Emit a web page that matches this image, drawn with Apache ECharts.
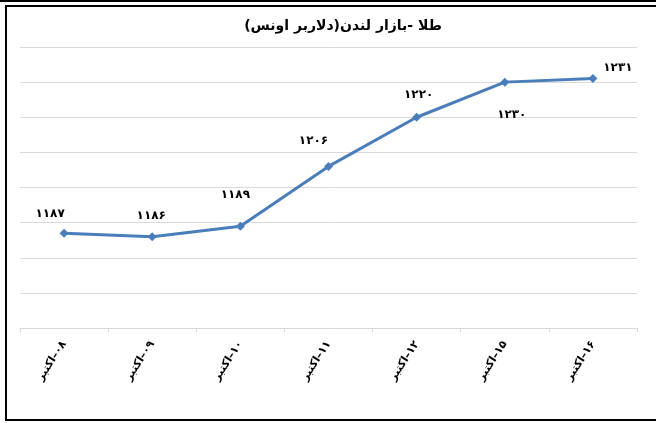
<!DOCTYPE html>
<html>
<head>
<meta charset="utf-8">
<script src="https://cdn.jsdelivr.net/npm/echarts@6/dist/echarts.min.js"></script>
<style>
html,body{margin:0;padding:0;background:#fff;}
#topline{position:absolute;left:0;top:0;width:656px;height:2px;background:#000;}
#frame{position:absolute;left:5px;top:5px;width:700px;height:416px;box-sizing:border-box;border-left:2px solid #000;border-top:2px solid #000;border-bottom:2px solid #000;}
#chart{position:absolute;left:0;top:0;width:656px;height:423px;}
</style>
</head>
<body>
<div id="topline"></div>
<div id="frame"></div>
<div id="chart"></div>
<script>
const categories = ['۰۸–اکتبر','۰۹–اکتبر','۱۰–اکتبر','۱۱–اکتبر','۱۲–اکتبر','۱۵–اکتبر','۱۶–اکتبر'];
const values = [1187, 1186, 1189, 1206, 1220, 1230, 1231];
const valueLabels = ['۱۱۸۷','۱۱۸۶','۱۱۸۹','۱۲۰۶','۱۲۲۰','۱۲۳۰','۱۲۳۱'];
const labelOffsets = [[-14,-19],[-1,-21],[-5,-31],[-15,-26],[2,-22],[7,33],[25,-11]];
const title = '\u200Fطلا -بازار لندن(دلاربر اونس)\u200F';

const chart = echarts.init(document.getElementById('chart'), null, {renderer:'canvas'});
const FONT = 'DejaVu Sans';
chart.setOption({
  backgroundColor: 'transparent',
  animation: false,
  title: {
    text: title, left: 338, textAlign: 'center', top: 14,
    textStyle: {fontFamily: FONT, fontSize: 14, fontWeight: 'bold', color: '#000'}
  },
  grid: {left: 20, right: 19, top: 47, bottom: 95},
  xAxis: {
    type: 'category', data: categories, boundaryGap: true,
    axisLine: {lineStyle: {color: '#d9d9d9', width: 1}},
    axisTick: {show: true, length: 4, lineStyle: {color: '#d9d9d9'}},
    axisLabel: {
      rotate: 57, margin: 14, fontFamily: FONT, fontSize: 11, fontWeight: 'bold', color: '#000',
      formatter: v => '\u200F' + v + '\u200F'
    }
  },
  yAxis: {
    type: 'value', min: 1160, max: 1240, interval: 10,
    axisLine: {show: false}, axisTick: {show: false}, axisLabel: {show: false},
    splitLine: {lineStyle: {color: '#d9d9d9', width: 1}}
  },
  series: [{
    type: 'line',
    data: values.map((v, i) => ({
      value: v,
      label: {offset: labelOffsets[i]}
    })),
    symbol: 'diamond', symbolSize: 9,
    lineStyle: {color: '#4a7ebb', width: 3},
    itemStyle: {color: '#4a7ebb'},
    label: {
      show: true, position: 'inside', align: 'center', verticalAlign: 'middle',
      formatter: p => valueLabels[p.dataIndex],
      fontFamily: FONT, fontSize: 12, fontWeight: 'bold', color: '#000'
    }
  }]
});
</script>
</body>
</html>
